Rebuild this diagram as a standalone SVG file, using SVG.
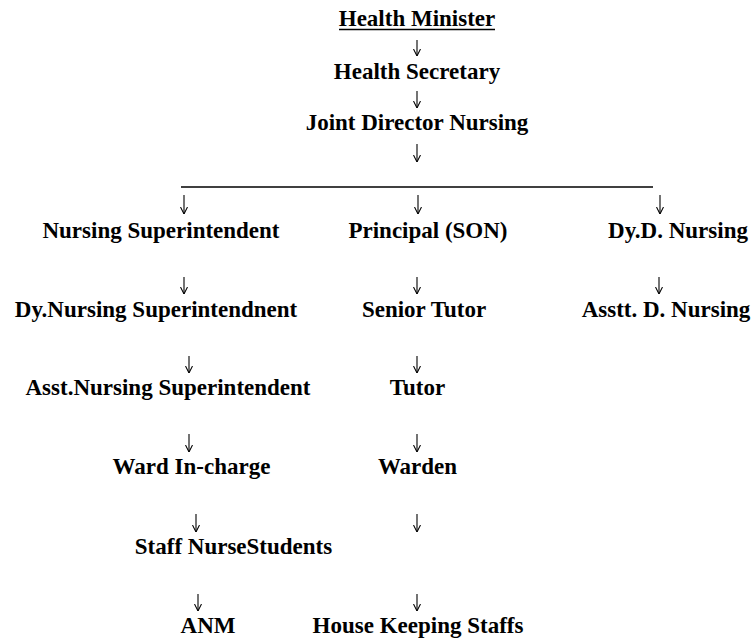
<svg xmlns="http://www.w3.org/2000/svg" width="751" height="638" viewBox="0 0 751 638">
<style>
.t{font-family:"Liberation Serif","Times New Roman","DejaVu Serif",serif;font-weight:bold;font-size:23px;fill:#000;text-anchor:middle}
.l{stroke:#000;stroke-width:1.6;fill:none}
.a{stroke:#000;stroke-width:1.1;fill:none;marker-end:url(#ah)}
</style>
<defs>
<marker id="ah" viewBox="0 0 10 10" refX="10" refY="5" markerWidth="7" markerHeight="8" markerUnits="userSpaceOnUse" orient="auto">
<path d="M0,0 L10,5 L0,10" fill="none" stroke="#000" stroke-width="1.5"/>
</marker>
</defs>
<rect width="751" height="638" fill="#fff"/>
<g id="n-health-minister"><text class="t" x="417" y="26">Health Minister</text><line class="l" x1="339" y1="29.5" x2="495" y2="29.5"/></g>
<g id="n-health-secretary"><text class="t" x="417" y="79">Health Secretary</text></g>
<g id="n-joint-director"><text class="t" x="417" y="130">Joint Director Nursing</text></g>
<g id="n-nursing-supt"><text class="t" x="161" y="238">Nursing Superintendent</text></g>
<g id="n-principal"><text class="t" x="428" y="238">Principal (SON)</text></g>
<g id="n-dyd-nursing"><text class="t" x="678" y="238">Dy.D. Nursing</text></g>
<g id="n-dy-nursing-supt"><text class="t" x="156" y="317">Dy.Nursing Superintendnent</text></g>
<g id="n-senior-tutor"><text class="t" x="424" y="317">Senior Tutor</text></g>
<g id="n-asstt-d-nursing"><text class="t" x="666" y="317">Asstt. D. Nursing</text></g>
<g id="n-asst-nursing-supt"><text class="t" x="168" y="395">Asst.Nursing Superintendent</text></g>
<g id="n-tutor"><text class="t" x="417.5" y="395">Tutor</text></g>
<g id="n-ward-incharge"><text class="t" x="191.5" y="474">Ward In-charge</text></g>
<g id="n-warden"><text class="t" x="417.5" y="474">Warden</text></g>
<g id="n-staff-nurse"><text class="t" x="233.5" y="554">Staff NurseStudents</text></g>
<g id="n-anm"><text class="t" x="208" y="633">ANM</text></g>
<g id="n-house-keeping"><text class="t" x="418" y="633">House Keeping Staffs</text></g>
<g id="connectors">
<line class="l" x1="181" y1="187" x2="653" y2="187"/>
<line class="a" x1="417" y1="40" x2="417" y2="56"/>
<line class="a" x1="417" y1="91" x2="417" y2="108"/>
<line class="a" x1="417" y1="144" x2="417" y2="162"/>
<line class="a" x1="184" y1="195" x2="184" y2="214"/>
<line class="a" x1="418" y1="195" x2="418" y2="214"/>
<line class="a" x1="660" y1="195" x2="660" y2="214"/>
<line class="a" x1="184" y1="277" x2="184" y2="294"/>
<line class="a" x1="417" y1="277" x2="417" y2="294"/>
<line class="a" x1="659" y1="277" x2="659" y2="294"/>
<line class="a" x1="189" y1="356" x2="189" y2="373"/>
<line class="a" x1="417" y1="356" x2="417" y2="373"/>
<line class="a" x1="189" y1="434" x2="189" y2="452"/>
<line class="a" x1="417" y1="434" x2="417" y2="452"/>
<line class="a" x1="196" y1="514" x2="196" y2="532"/>
<line class="a" x1="417" y1="514" x2="417" y2="532"/>
<line class="a" x1="198" y1="594" x2="198" y2="611"/>
<line class="a" x1="417" y1="594" x2="417" y2="611"/>
</g>
</svg>
